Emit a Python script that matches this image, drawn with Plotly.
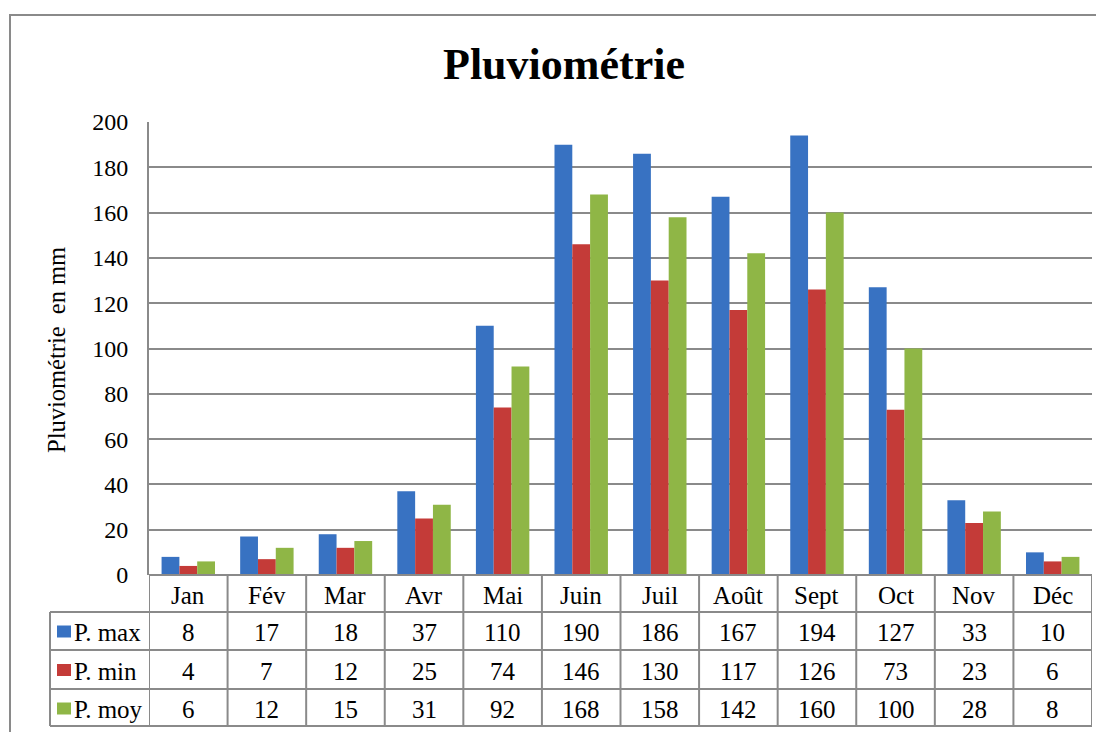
import plotly.graph_objects as go

months = ["Jan", "Fév", "Mar", "Avr", "Mai", "Juin", "Juil", "Août", "Sept", "Oct", "Nov", "Déc"]
p_max = [8, 17, 18, 37, 110, 190, 186, 167, 194, 127, 33, 10]
p_min = [4, 7, 12, 25, 74, 146, 130, 117, 126, 73, 23, 6]
p_moy = [6, 12, 15, 31, 92, 168, 158, 142, 160, 100, 28, 8]
series_names = ["P. max", "P. min", "P. moy"]
series_values = [p_max, p_min, p_moy]
colors = ["#3872C2", "#C43B38", "#8FB646"]

OFF = 8  # page body margin
W, H = 1104 - OFF, 732 - OFF
L, R, T, B = 149, 1092, 122, 575
FONT = "Liberation Serif, Times New Roman, serif"
GRID = "#8a8a8a"


def xp(px):
    return (px - L) / (R - L)


def yp(py):
    return (B - py) / (B - T)


fig = go.Figure()
for name, vals, c in zip(series_names, series_values, colors):
    fig.add_bar(x=months, y=vals, name=name, marker_color=c, marker_line_width=0)

shapes = []
annotations = []

# table horizontal lines
shapes.append(dict(type="line", xref="paper", yref="paper", x0=xp(L), x1=xp(R),
                   y0=yp(575), y1=yp(575), line=dict(color=GRID, width=2)))
for py in [612, 650, 689, 726]:
    shapes.append(dict(type="line", xref="paper", yref="paper", x0=xp(50), x1=xp(R),
                       y0=yp(py), y1=yp(py), line=dict(color=GRID, width=2)))
# table vertical lines
for k in range(len(months) + 1):
    shapes.append(dict(type="line", xref="x", yref="paper", x0=k - 0.5, x1=k - 0.5,
                       y0=yp(575), y1=yp(726), line=dict(color=GRID, width=2)))
shapes.append(dict(type="line", xref="paper", yref="paper", x0=xp(50), x1=xp(50),
                   y0=yp(612), y1=yp(726), line=dict(color=GRID, width=2)))
# outer border
shapes.append(dict(type="rect", xref="paper", yref="paper", x0=xp(10), x1=xp(1125),
                   y0=yp(15), y1=yp(760), line=dict(color=GRID, width=2)))

TS = 25
# header row
for i, m in enumerate(months):
    annotations.append(dict(x=i, y=yp(595), xref="x", yref="paper", text=m, showarrow=False,
                            font=dict(family=FONT, size=TS, color="black"),
                            xanchor="center", yanchor="middle"))
row_centers = [632.5, 671, 709.5]
for r, (name, vals, c) in enumerate(zip(series_names, series_values, colors)):
    yc = row_centers[r]
    for i, v in enumerate(vals):
        annotations.append(dict(x=i, y=yp(yc), xref="x", yref="paper", text=str(v),
                                showarrow=False, font=dict(family=FONT, size=TS, color="black"),
                                xanchor="center", yanchor="middle"))
    annotations.append(dict(x=xp(72), y=yp(yc), xref="paper", yref="paper", text=name,
                            showarrow=False, font=dict(family=FONT, size=TS, color="black"),
                            xanchor="left", yanchor="middle"))
    shapes.append(dict(type="rect", xref="paper", yref="paper", x0=xp(57), x1=xp(71),
                       y0=yp(yc - 7), y1=yp(yc + 5), fillcolor=c, line=dict(width=0)))

# title
annotations.append(dict(x=xp(564), y=yp(64), xref="paper", yref="paper", text="<b>Pluviométrie</b>",
                        showarrow=False, font=dict(family=FONT, size=44, color="black"),
                        xanchor="center", yanchor="middle"))
# y axis title
annotations.append(dict(x=xp(56), y=yp(350), xref="paper", yref="paper", text="Pluviométrie  en mm",
                        showarrow=False, textangle=-90,
                        font=dict(family=FONT, size=24.5, color="black"),
                        xanchor="center", yanchor="middle"))

fig.update_layout(
    width=W, height=H,
    margin=dict(l=L - OFF, r=W - (R - OFF), t=T - OFF, b=H - (B - OFF), pad=0),
    paper_bgcolor="white", plot_bgcolor="white",
    barmode="group", bargap=0.32, bargroupgap=0,
    showlegend=False,
    shapes=shapes, annotations=annotations,
    xaxis=dict(range=[-0.5, 11.5], showticklabels=False, showgrid=False, zeroline=False,
               ticks="", showline=False),
    yaxis=dict(range=[0, 200], dtick=20, showgrid=True, gridcolor=GRID, gridwidth=2,
               showline=True, linecolor=GRID, linewidth=2, zeroline=False, ticks="",
               ticklabelstandoff=14,
               tickfont=dict(family=FONT, size=24, color="black")),
)

fig.write_html("out.html")
